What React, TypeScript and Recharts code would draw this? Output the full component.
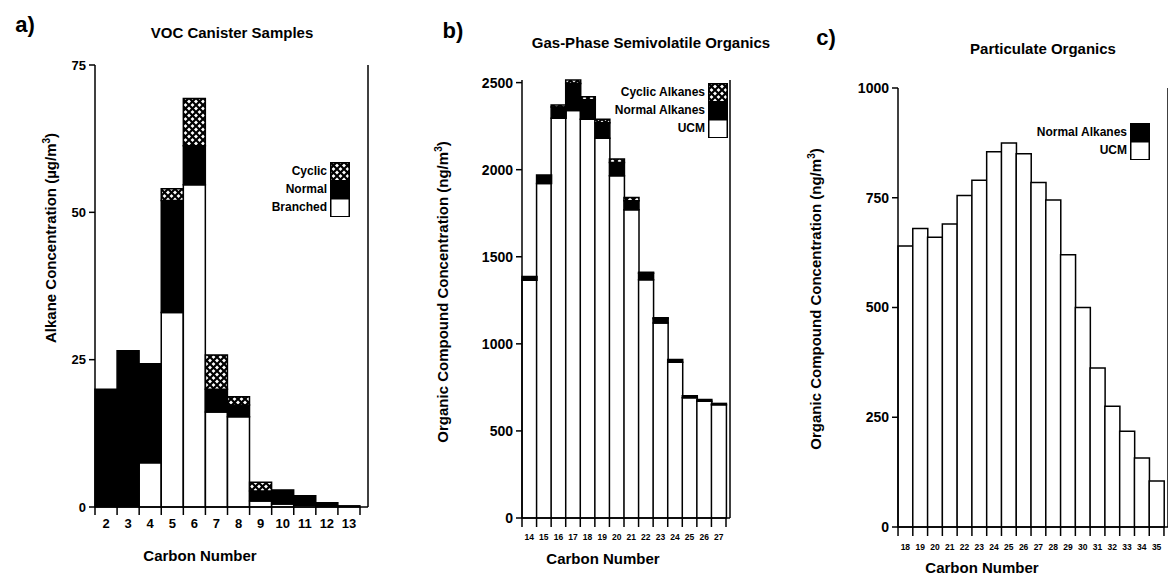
import React from "react";
import { BarChart, Bar, XAxis, YAxis } from "recharts";

const FONT = "'Liberation Sans', Arial, Helvetica, sans-serif";

// a) VOC canister samples (ug/m3)
const carbonA = ["2", "3", "4", "5", "6", "7", "8", "9", "10", "11", "12", "13"];
const branchedA = [0, 0, 7.5, 33, 54.7, 16.1, 15.3, 1, 0.5, 0.3, 0, 0];
const normalA = [20, 26.5, 16.8, 19, 6.6, 3.9, 2, 1.7, 2.4, 1.6, 0.7, 0.2];
const cyclicA = [0, 0, 0, 2, 8, 5.8, 1.4, 1.5, 0, 0, 0, 0];
const ticksA = [0, 25, 50, 75];

// b) gas-phase semivolatile organics (ng/m3)
const carbonB = ["14", "15", "16", "17", "18", "19", "20", "21", "22", "23", "24", "25", "26", "27"];
const ucmB = [1365, 1920, 2295, 2340, 2290, 2180, 1965, 1770, 1368, 1120, 895, 690, 670, 650];
const normalB = [22, 50, 65, 155, 112, 90, 77, 52, 38, 25, 15, 12, 10, 8];
const cyclicB = [0, 0, 12, 20, 17, 20, 19, 18, 5, 5, 0, 0, 0, 0];
const ticksB = [0, 500, 1000, 1500, 2000, 2500];

// c) particulate organics (ng/m3)
const carbonC = ["18", "19", "20", "21", "22", "23", "24", "25", "26", "27", "28", "29", "30", "31", "32", "33", "34", "35"];
const ucmC = [640, 680, 660, 690, 755, 790, 855, 875, 850, 785, 745, 620, 500, 362, 275, 218, 157, 105];
const normalC = [0, 0, 0, 0, 0, 0, 0, 0, 0, 0, 0, 0, 0, 0, 0, 0, 0, 0];
const ticksC = [0, 250, 500, 750, 1000];

const dataA = carbonA.map((c, i) => ({ c, branched: branchedA[i], normal: normalA[i], cyclic: cyclicA[i] }));
const dataB = carbonB.map((c, i) => ({ c, ucm: ucmB[i], normal: normalB[i], cyclic: cyclicB[i] }));
const dataC = carbonC.map((c, i) => ({ c, ucm: ucmC[i], normal: normalC[i] }));

// cross-hatch fill: black lattice with white diamonds
const Hatch = ({ id }: { id: string }) => (
  <pattern id={id} patternUnits="userSpaceOnUse" width={7} height={7}>
    <rect width={7} height={7} fill="#fff" />
    <path d="M0,0 L7,7 M7,0 L0,7" stroke="#000" strokeWidth={2.2} />
  </pattern>
);

const makeTick = (bw: number, bottom: number, tickLen: number, dy: number, size: number, last: string) =>
  (props: any) => {
    const { x, payload } = props;
    return (
      <g>
        <line x1={x - bw / 2} x2={x - bw / 2} y1={bottom} y2={bottom + tickLen} stroke="#000" strokeWidth={1.5} />
        {payload.value === last && (
          <line x1={x + bw / 2} x2={x + bw / 2} y1={bottom} y2={bottom + tickLen} stroke="#000" strokeWidth={1.5} />
        )}
        <text x={x} y={bottom + dy} textAnchor="middle" dominantBaseline="central" fontSize={size} fontWeight="bold" fill="#000">
          {payload.value}
        </text>
      </g>
    );
  };

const Txt = ({ x, y, size, rotate, children }: any) => (
  <div
    style={{
      position: "absolute",
      left: x,
      top: y,
      transform: `translate(-50%, -50%)${rotate ? " rotate(-90deg)" : ""}`,
      fontSize: size,
      fontWeight: "bold",
      whiteSpace: "nowrap",
      lineHeight: 1,
    }}
  >
    {children}
  </div>
);

const LegendBox = ({ left, top, items, id }: { left: number; top: number; items: { label: string; fill: string }[]; id: string }) => (
  <div style={{ position: "absolute", left: left - 200, top, width: 222 }}>
    {items.map((it) => (
      <div key={it.label} style={{ height: 18, lineHeight: "18px", textAlign: "right", paddingRight: 25, fontSize: 12, fontWeight: "bold" }}>
        {it.label}
      </div>
    ))}
    <svg width={20} height={items.length * 18 + 1} style={{ position: "absolute", left: 200, top: 0 }}>
      <defs>
        <Hatch id={id} />
      </defs>
      {items.map((it, i) => (
        <rect
          key={it.label}
          x={0.75}
          y={i * 18 + 0.75}
          width={18.5}
          height={18}
          fill={it.fill === "hatch" ? `url(#${id})` : it.fill}
          stroke="#000"
          strokeWidth={1.5}
        />
      ))}
    </svg>
  </div>
);

const axisProps = {
  stroke: "#000",
  strokeWidth: 1.5,
};

export default function App() {
  const bwA = (368 - 95 - 8) / 12;
  const bwB = (730 - 522 - 4) / 14;
  const bwC = (1167 - 898 - 4) / 18;

  return (
    <div style={{ position: "absolute", left: 0, top: 0, width: 1168, height: 576, background: "#fff", overflow: "hidden", fontFamily: FONT, color: "#000" }}>
      {/* panel a */}
      <div style={{ position: "absolute", left: 0, top: 0 }}>
        <BarChart width={380} height={576} data={dataA} margin={{ top: 65, right: 11, bottom: 39, left: 35 }} barCategoryGap={0}>
          <defs>
            <Hatch id="hatchA" />
          </defs>
          <XAxis dataKey="c" height={30} padding={{ left: 0, right: 8 }} axisLine={axisProps} tickLine={false} tick={makeTick(bwA, 507, 8, 16, 13, "13")} interval={0} />
          <YAxis width={60} domain={[0, 75]} ticks={ticksA} axisLine={axisProps} tickLine={axisProps} tickSize={6} tickMargin={3} tick={{ fill: "#000", fontSize: 13, fontWeight: "bold" }} />
          <YAxis yAxisId="r" orientation="right" width={1} domain={[0, 75]} ticks={ticksA} axisLine={axisProps} tickLine={axisProps} tickSize={6} tickFormatter={() => ""} />
          <Bar dataKey="branched" stackId="a" fill="#fff" stroke="#000" strokeWidth={1.5} isAnimationActive={false} />
          <Bar dataKey="normal" stackId="a" fill="#000" stroke="#000" strokeWidth={1.5} isAnimationActive={false} />
          <Bar dataKey="cyclic" stackId="a" fill="url(#hatchA)" stroke="#000" strokeWidth={1.5} isAnimationActive={false} />
        </BarChart>
      </div>

      {/* panel b */}
      <div style={{ position: "absolute", left: 420, top: 0 }}>
        <BarChart width={330} height={576} data={dataB} margin={{ top: 80, right: 19, bottom: 33, left: 42 }} barCategoryGap={0}>
          <defs>
            <Hatch id="hatchB" />
          </defs>
          <XAxis dataKey="c" height={25} padding={{ left: 0, right: 4 }} axisLine={axisProps} tickLine={false} tick={makeTick(bwB, 518, 9, 19, 8.5, "27")} interval={0} />
          <YAxis width={60} domain={[0, 2500]} ticks={ticksB} axisLine={axisProps} tickLine={axisProps} tickSize={6} tickMargin={3} tick={{ fill: "#000", fontSize: 14, fontWeight: "bold" }} />
          <YAxis yAxisId="r" orientation="right" width={1} domain={[0, 2500]} ticks={ticksB} axisLine={axisProps} tickLine={axisProps} tickSize={6} tickFormatter={() => ""} />
          <Bar dataKey="ucm" stackId="b" fill="#fff" stroke="#000" strokeWidth={1.5} isAnimationActive={false} />
          <Bar dataKey="normal" stackId="b" fill="#000" stroke="#000" strokeWidth={1.5} isAnimationActive={false} />
          <Bar dataKey="cyclic" stackId="b" fill="url(#hatchB)" stroke="#000" strokeWidth={1.5} isAnimationActive={false} />
        </BarChart>
      </div>

      {/* panel c */}
      <div style={{ position: "absolute", left: 800, top: 0 }}>
        <BarChart width={368} height={576} data={dataC} margin={{ top: 88, right: 0, bottom: 24, left: 38 }} barCategoryGap={0}>
          <XAxis dataKey="c" height={25} padding={{ left: 0, right: 4 }} axisLine={axisProps} tickLine={false} tick={makeTick(bwC, 527, 9, 20, 8.5, "35")} interval={0} />
          <YAxis width={60} domain={[0, 1000]} ticks={ticksC} axisLine={axisProps} tickLine={axisProps} tickSize={6} tickMargin={3} tick={{ fill: "#000", fontSize: 14, fontWeight: "bold" }} />
          <YAxis yAxisId="r" orientation="right" mirror width={1} domain={[0, 1000]} ticks={ticksC} axisLine={axisProps} tickLine={axisProps} tickSize={6} tickFormatter={() => ""} />
          <Bar dataKey="ucm" stackId="c" fill="#fff" stroke="#000" strokeWidth={1.5} isAnimationActive={false} />
          <Bar dataKey="normal" stackId="c" fill="#000" stroke="#000" strokeWidth={1.5} isAnimationActive={false} />
        </BarChart>
      </div>

      <Txt x={25} y={25} size={22}>a)</Txt>
      <Txt x={232} y={32} size={15}>VOC Canister Samples</Txt>
      <Txt x={50} y={238} size={15} rotate>
        Alkane Concentration (µg/m<sup style={{ fontSize: 10 }}>3</sup>)
      </Txt>
      <Txt x={200} y={555} size={15}>Carbon Number</Txt>

      <Txt x={453} y={31} size={22}>b)</Txt>
      <Txt x={651} y={42} size={15}>Gas-Phase Semivolatile Organics</Txt>
      <Txt x={442} y={292} size={15} rotate>
        Organic Compound Concentration (ng/m<sup style={{ fontSize: 10 }}>3</sup>)
      </Txt>
      <Txt x={603} y={558} size={15}>Carbon Number</Txt>

      <Txt x={826} y={38} size={22}>c)</Txt>
      <Txt x={1043} y={48} size={15}>Particulate Organics</Txt>
      <Txt x={815} y={299} size={15} rotate>
        Organic Compound Concentration (ng/m<sup style={{ fontSize: 10 }}>3</sup>)
      </Txt>
      <Txt x={982} y={567} size={15}>Carbon Number</Txt>

      <LegendBox
        id="lgA"
        left={330}
        top={162}
        items={[
          { label: "Cyclic", fill: "hatch" },
          { label: "Normal", fill: "#000" },
          { label: "Branched", fill: "#fff" },
        ]}
      />
      <LegendBox
        id="lgB"
        left={708}
        top={83}
        items={[
          { label: "Cyclic Alkanes", fill: "hatch" },
          { label: "Normal Alkanes", fill: "#000" },
          { label: "UCM", fill: "#fff" },
        ]}
      />
      <LegendBox
        id="lgC"
        left={1130}
        top={123}
        items={[
          { label: "Normal Alkanes", fill: "#000" },
          { label: "UCM", fill: "#fff" },
        ]}
      />
    </div>
  );
}
